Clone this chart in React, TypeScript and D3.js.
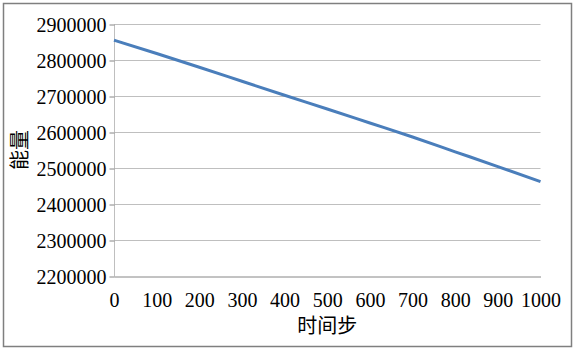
import { useRef, useEffect } from 'react'
import * as d3 from 'd3'

// energy at every 100 time steps
const steps = [0, 100, 200, 300, 400, 500, 600, 700, 800, 900, 1000]
const energy = [2855000, 2818000, 2780000, 2741000, 2702000, 2664000, 2625000, 2586000, 2545000, 2504000, 2462000]
const yTicks = [2200000, 2300000, 2400000, 2500000, 2600000, 2700000, 2800000, 2900000]
const xTicks = [0, 100, 200, 300, 400, 500, 600, 700, 800, 900, 1000]

const xTitle = '时间步'
const yTitle = '能量'

export default function App() {
  const svgRef = useRef<SVGSVGElement>(null)

  useEffect(() => {
    if (!svgRef.current) return
    const svg = d3.select(svgRef.current)
    svg.selectAll('*').remove()

    const width = 577
    const height = 353
    const margin = { top: 24, right: 36, bottom: 77, left: 114 }
    const font = '"Liberation Serif", "Times New Roman", serif'

    svg.attr('width', width).attr('height', height).attr('viewBox', `0 0 ${width} ${height}`)

    // outer frame
    svg.append('rect')
      .attr('x', 3.5).attr('y', 3.5)
      .attr('width', 568).attr('height', 343)
      .attr('fill', '#fff').attr('stroke', '#7f7f7f').attr('stroke-width', 1.5)

    const x = d3.scaleLinear().domain([0, 1000]).range([margin.left, width - margin.right - 0.5])
    const y = d3.scaleLinear().domain([2200000, 2900000]).range([height - margin.bottom, margin.top])

    // gridlines
    svg.append('g')
      .selectAll('line')
      .data(yTicks.slice(1))
      .join('line')
      .attr('x1', x(0)).attr('x2', x(1000))
      .attr('y1', d => Math.round(y(d)) + 0.5).attr('y2', d => Math.round(y(d)) + 0.5)
      .attr('stroke', '#bfbfbf')

    // left axis
    const yAxis = svg.append('g')
      .attr('transform', `translate(${x(0) + 0.5},0.5)`)
      .attr('font-family', font)
      .call(d3.axisLeft(y).tickValues(yTicks).tickSize(5).tickPadding(3).tickFormat(d3.format('d')))
    yAxis.attr('font-family', font)
    yAxis.select('.domain').attr('stroke', '#bfbfbf').attr('d', `M0,${y(2900000)}V${y(2200000)}`)
    yAxis.selectAll('.tick line').attr('stroke', '#868686')
    yAxis.selectAll('text')
      .attr('fill', '#000').attr('dy', '0.33em')
      .style('font-family', font).style('font-size', '20px')

    // bottom axis
    const xAxis = svg.append('g')
      .attr('transform', `translate(0,${Math.round(y(2200000)) + 0.5})`)
      .call(d3.axisBottom(x).tickValues(xTicks).tickSize(0).tickPadding(16).tickFormat(d3.format('d')))
    xAxis.attr('font-family', font)
    xAxis.select('.domain').attr('stroke', '#868686')
    xAxis.selectAll('text')
      .attr('fill', '#000')
      .style('font-family', font).style('font-size', '20px')

    // energy line
    const line = d3.line<number>()
      .x((_, i) => x(steps[i]))
      .y(d => y(d))
      .curve(d3.curveMonotoneX)
    svg.append('path')
      .datum(energy)
      .attr('d', line)
      .attr('fill', 'none')
      .attr('stroke', '#4a7ebb')
      .attr('stroke-width', 3)

    // titles
    svg.append('text')
      .attr('x', (x(0) + x(1000)) / 2).attr('y', 333)
      .attr('text-anchor', 'middle')
      .style('font-family', '"Noto Sans CJK SC", sans-serif').style('font-size', '20px')
      .style('fill', '#000')
      .text(xTitle)

    svg.append('text')
      .attr('transform', 'translate(27,150) rotate(-90)')
      .attr('text-anchor', 'middle')
      .style('font-family', '"Noto Sans CJK SC", sans-serif').style('font-size', '20px')
      .style('fill', '#000')
      .text(yTitle)
  }, [])

  return <svg ref={svgRef} style={{ position: 'absolute', left: 0, top: 0 }} />
}
